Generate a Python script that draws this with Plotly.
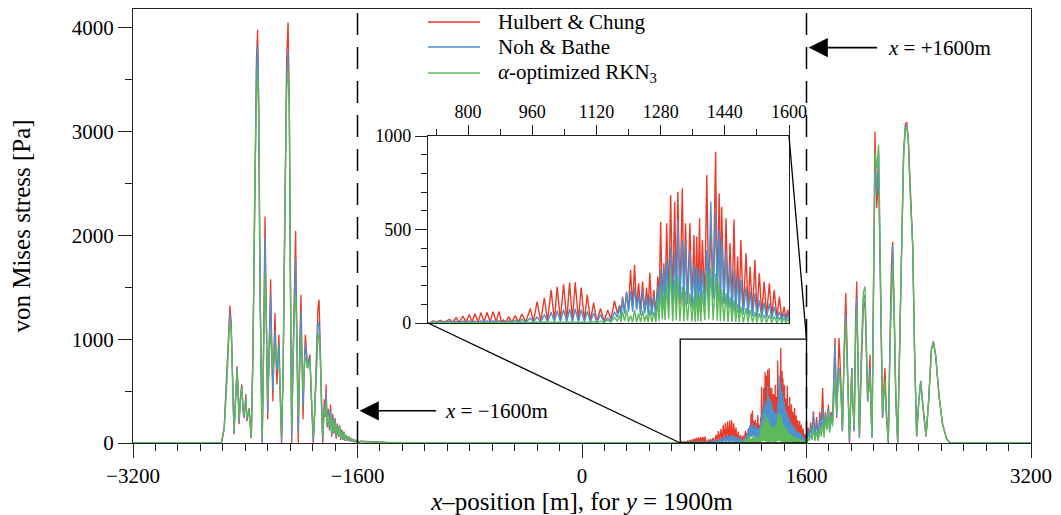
import plotly.graph_objects as go

# ---------------- data ----------------
# Segment A : left cluster and the quiet zone up to 690 m
seg_a_x = [-3200, -2600, -2570, -2550, -2530, -2515, -2509, -2500, -2490, -2480,
           -2470, -2458, -2450, -2444, -2435, -2425, -2415, -2408, -2400, -2396,
           -2388, -2380, -2372, -2365, -2357, -2345, -2333, -2320, -2312, -2304,
           -2295, -2286, -2279, -2270, -2259, -2250, -2240, -2230, -2219, -2210,
           -2203, -2195, -2188, -2180, -2174, -2167, -2160, -2150, -2141, -2130,
           -2118, -2105, -2095, -2086, -2078, -2069, -2060, -2050, -2041, -2032,
           -2022, -2012, -2003, -1995, -1988, -1980, -1972, -1964, -1956, -1948,
           -1939, -1928, -1915, -1905, -1892, -1882, -1874, -1865, -1856, -1848,
           -1836, -1830, -1824, -1816, -1808, -1800, -1792, -1784, -1776, -1768,
           -1760, -1752, -1744, -1736, -1728, -1720, -1712, -1704, -1696, -1688,
           -1680, -1672, -1664, -1656, -1648, -1640, -1632, -1624, -1616, -1608,
           -1600, -1590, -1580, -1560, -1500, -1400, -1300, -1100, -800, 690]
seg_a_hc = [0, 0, 0, 150, 700, 1250, 1325, 1150, 500, 83,
            400, 738, 450, 180, 420, 565, 300, 240, 380, 470,
            210, 300, 335, 200, 45, 900, 2600, 3700, 3979, 3300,
            1500, 300, 0, 900, 2182, 1200, 228, 900, 1578, 800,
            400, 900, 1251, 800, 563, 800, 1043, 400, 0, 700,
            2500, 3700, 4052, 3300, 1500, 0, 800, 1700, 2044, 1000,
            0, 900, 1428, 800, 228, 700, 1043, 900, 720, 800,
            850, 400, 0, 300, 1000, 1300, 1380, 900, 300, 0,
            420, 250, 563, 150, 330, 120, 370, 60, 280, 90,
            240, 40, 190, 60, 170, 30, 130, 30, 110, 20,
            80, 20, 65, 15, 50, 12, 40, 10, 30, 8,
            22, 8, 18, 15, 12, 6, 3, 1, 0, 0]
seg_a_nb = [0, 0, 0, 140, 660, 1180, 1250, 1100, 480, 100,
            380, 720, 450, 200, 410, 550, 310, 250, 370, 440,
            230, 290, 320, 200, 50, 860, 2500, 3600, 3834, 3200,
            1500, 350, 20, 850, 1973, 1200, 300, 850, 1428, 850,
            500, 850, 1075, 800, 700, 800, 950, 450, 30, 700,
            2400, 3500, 3786, 3200, 1500, 50, 750, 1500, 1781, 1000,
            100, 850, 1268, 800, 350, 700, 950, 850, 720, 780,
            820, 420, 20, 300, 900, 1150, 1170, 850, 320, 30,
            380, 260, 485, 170, 300, 140, 330, 80, 250, 100,
            220, 55, 170, 65, 160, 40, 120, 35, 100, 25,
            75, 22, 60, 17, 45, 14, 36, 12, 28, 9,
            20, 8, 16, 13, 10, 5, 3, 1, 0, 0]
seg_a_rk = [0, 0, 0, 130, 600, 1100, 1170, 1080, 520, 120,
            400, 700, 470, 230, 420, 530, 330, 270, 360, 420,
            250, 290, 300, 200, 60, 820, 2400, 3350, 3600, 3100,
            1600, 450, 80, 800, 1636, 1250, 401, 800, 1050, 900,
            700, 800, 882, 950, 800, 850, 760, 500, 60, 700,
            2300, 3400, 3600, 3250, 1700, 150, 700, 1250, 1428, 1000,
            250, 800, 1050, 800, 500, 700, 820, 800, 720, 760,
            780, 450, 60, 300, 800, 1000, 1050, 800, 350, 60,
            330, 270, 400, 190, 270, 160, 270, 100, 220, 110,
            200, 70, 160, 70, 150, 50, 110, 40, 95, 30,
            70, 25, 55, 20, 42, 16, 34, 13, 26, 10,
            18, 8, 14, 12, 9, 5, 2, 1, 0, 0]

# Segment B : 700 - 1172 m (inside the zoom window)
seg_b_x = [700, 706, 713, 721, 730, 741, 753, 762, 770, 778,
           787, 795, 803, 810, 817, 825, 832, 840, 847, 855,
           862, 870, 877, 883, 888, 895, 901, 909, 917, 926,
           934, 944, 955, 963, 972, 981, 990, 998, 1007, 1015,
           1022, 1030, 1038, 1046, 1053, 1060, 1067, 1075, 1082, 1090,
           1097, 1105, 1113, 1121, 1130, 1139, 1148, 1156, 1165, 1172]
seg_b_hc = [0, 2, 12, 2, 14, 3, 20, 4, 28, 4,
            37, 5, 45, 5, 50, 6, 55, 6, 57, 6,
            60, 8, 62, 6, 16, 4, 34, 5, 39, 5,
            48, 6, 78, 8, 114, 10, 135, 12, 176, 15,
            194, 15, 207, 15, 216, 15, 218, 15, 189, 12,
            150, 10, 109, 8, 78, 8, 70, 20, 118, 50]
seg_b_nb = [0, 3, 6, 4, 8, 2, 10, 3, 9, 2,
            10, 3, 12, 3, 11, 2, 12, 3, 12, 3,
            12, 4, 13, 3, 8, 3, 12, 3, 15, 3,
            20, 4, 27, 5, 32, 5, 45, 6, 57, 6,
            66, 6, 71, 6, 75, 6, 75, 6, 71, 6,
            62, 5, 53, 5, 45, 5, 27, 10, 60, 30]
seg_b_rk = [0, 1, 2, 1, 3, 1, 3, 1, 4, 1,
            3, 1, 4, 1, 3, 1, 4, 1, 4, 1,
            4, 1, 5, 1, 3, 1, 4, 1, 4, 1,
            5, 1, 4, 1, 5, 1, 5, 1, 6, 1,
            5, 1, 6, 1, 5, 1, 6, 1, 5, 1,
            6, 1, 8, 2, 10, 3, 15, 5, 30, 10]

# Segment C : 1178 - 1600 m (dense part of the zoom window)
seg_c_x = [1178, 1181, 1185, 1190, 1195, 1200, 1205, 1210, 1215, 1220,
           1225, 1230, 1235, 1240, 1245, 1249, 1253, 1258, 1263, 1268,
           1273, 1276, 1280, 1284, 1288, 1291, 1295, 1300, 1305, 1310,
           1315, 1319, 1323, 1328, 1334, 1338, 1342, 1347, 1353, 1358,
           1363, 1366, 1370, 1373, 1377, 1380, 1384, 1390, 1395, 1400,
           1405, 1411, 1417, 1421, 1426, 1429, 1432, 1438, 1443, 1448,
           1453, 1458, 1463, 1467, 1472, 1476, 1480, 1486, 1493, 1498,
           1503, 1509, 1515, 1520, 1526, 1532, 1538, 1544, 1551, 1557,
           1563, 1570, 1576, 1582, 1588, 1592, 1597, 1600]
seg_c_hc = [96, 40, 140, 60, 160, 70, 283, 90, 310, 80,
            212, 70, 221, 60, 190, 70, 269, 60, 176, 50,
            248, 80, 542, 100, 319, 90, 533, 110, 684, 100,
            649, 110, 702, 100, 720, 90, 533, 100, 533, 90,
            471, 90, 462, 100, 560, 90, 444, 110, 791, 120,
            515, 130, 916, 150, 693, 120, 622, 110, 560, 100,
            426, 90, 554, 80, 355, 70, 444, 65, 373, 60,
            301, 55, 337, 50, 266, 45, 221, 40, 212, 35,
            176, 30, 141, 25, 87, 20, 70, 20]
seg_c_nb = [89, 30, 130, 50, 168, 60, 170, 60, 194, 70,
            150, 40, 176, 50, 140, 40, 150, 40, 141, 30,
            200, 60, 283, 80, 300, 90, 337, 100, 408, 90,
            380, 100, 551, 120, 444, 90, 420, 100, 390, 80,
            319, 90, 300, 80, 283, 70, 283, 90, 390, 110,
            649, 130, 586, 120, 497, 110, 450, 100, 390, 80,
            319, 60, 283, 55, 250, 50, 230, 45, 194, 40,
            170, 35, 159, 30, 123, 28, 110, 25, 105, 22,
            87, 20, 61, 15, 52, 12, 45, 15]
seg_c_rk = [40, 5, 60, 10, 70, 5, 40, 5, 70, 5,
            50, 5, 65, 8, 45, 5, 70, 5, 60, 5,
            120, 10, 194, 20, 150, 15, 212, 20, 283, 10,
            230, 15, 248, 10, 194, 8, 170, 12, 159, 8,
            140, 5, 176, 10, 150, 8, 176, 15, 266, 20,
            292, 15, 266, 12, 212, 10, 180, 8, 159, 5,
            140, 5, 123, 5, 100, 4, 87, 4, 80, 3,
            70, 3, 60, 3, 52, 2, 45, 2, 43, 2,
            35, 2, 30, 2, 25, 2, 20, 5]

# Segment D : right cluster 1605 - 3200 m
seg_d_x = [1605, 1610, 1620, 1630, 1640, 1649, 1660, 1672, 1684, 1695,
           1705, 1715, 1725, 1735, 1745, 1756, 1765, 1775, 1785, 1794,
           1803, 1815, 1824, 1832, 1844, 1856, 1868, 1880, 1893, 1906,
           1915, 1923, 1930, 1940, 1950, 1958, 1968, 1977, 1990, 2005,
           2017, 2026, 2036, 2045, 2053, 2060, 2067, 2075, 2082, 2088,
           2100, 2114, 2128, 2142, 2150, 2159, 2170, 2183, 2195, 2205,
           2214, 2225, 2237, 2250, 2265, 2278, 2292, 2305, 2314, 2325,
           2340, 2357, 2370, 2385, 2400, 2414, 2430, 2452, 2470, 2490,
           2504, 2520, 2545, 2570, 2599, 2623, 2660, 3200]
seg_d_hc = [60, 150, 60, 200, 80, 305, 60, 250, 40, 300,
            150, 529, 100, 300, 150, 368, 120, 300, 200, 700,
            1011, 240, 800, 1011, 626, 113, 900, 1444, 700, 0,
            400, 722, 400, 113, 1200, 1556, 700, 50, 700, 1300,
            1364, 900, 401, 600, 853, 300, 50, 1200, 2400, 3000,
            2262, 2580, 1400, 241, 500, 722, 300, 0, 1000, 1700,
            1941, 1300, 400, 0, 900, 1900, 2800, 3070, 3090, 2950,
            2400, 1900, 900, 64, 400, 594, 350, 64, 400, 900,
            979, 850, 450, 180, 40, 0, 0, 0]
seg_d_nb = [50, 120, 50, 160, 70, 273, 55, 200, 40, 250,
            130, 336, 90, 280, 140, 330, 110, 280, 180, 650,
            946, 260, 700, 722, 560, 113, 850, 1236, 650, 20,
            400, 722, 400, 113, 1100, 1396, 700, 50, 750, 1380,
            1428, 950, 401, 550, 722, 300, 50, 1100, 2200, 2615,
            2390, 2807, 1450, 241, 450, 530, 250, 10, 950, 1650,
            1909, 1300, 400, 0, 880, 1880, 2780, 3050, 3063, 2940,
            2400, 1900, 900, 64, 400, 600, 350, 64, 400, 900,
            979, 850, 450, 180, 40, 0, 0, 0]
seg_d_rk = [15, 50, 20, 80, 30, 145, 20, 110, 20, 150,
            60, 200, 50, 250, 120, 305, 100, 250, 160, 400,
            593, 300, 550, 700, 500, 150, 800, 1171, 650, 80,
            380, 674, 400, 150, 1000, 1300, 750, 100, 850, 1450,
            1508, 1000, 450, 500, 650, 300, 80, 1150, 2300, 2800,
            2650, 2872, 1600, 300, 450, 600, 250, 20, 900, 1500,
            1730, 1250, 420, 10, 850, 1850, 2750, 3030, 3047, 2930,
            2380, 1880, 880, 70, 390, 580, 350, 70, 390, 890,
            970, 845, 450, 180, 40, 0, 0, 0]

x_pos = seg_a_x + seg_b_x + seg_c_x + seg_d_x
hulbert_chung = seg_a_hc + seg_b_hc + seg_c_hc + seg_d_hc
noh_bathe = seg_a_nb + seg_b_nb + seg_c_nb + seg_d_nb
rkn3 = seg_a_rk + seg_b_rk + seg_c_rk + seg_d_rk
for s in (hulbert_chung, noh_bathe, rkn3):
    assert len(s) == len(x_pos), (len(s), len(x_pos))

series_names = ["Hulbert &amp; Chung", "Noh &amp; Bathe", "<i>α</i>-optimized RKN<sub>3</sub>"]
series_colors = ["#EA3A2A", "#4A92CE", "#5CBA5A"]

main_xticks = [-3200, -1600, 0, 1600, 3200]
main_xticktext = ["\u22123200", "\u22121600", "0", "1600", "3200"]
zoom_x_range = [700, 1600]
zoom_y_range = [0, 1000]
y_top = 4180

# ---------------- figure ----------------
# The page body adds an 8 px offset, so the figure is 8 px smaller and the
# margins are reduced accordingly (plot area ends up at x 133..1031, y 9..443).
OFF = 8
FIG_W, FIG_H = 1061 - OFF, 515 - OFF
PL, PT, PW, PH = 133 - OFF, 1, 898, 434

FONT = "Liberation Serif, Times New Roman, serif"
fig = go.Figure()
for name, ys, col in zip(series_names, [hulbert_chung, noh_bathe, rkn3], series_colors):
    fig.add_trace(go.Scatter(x=x_pos, y=ys, mode="lines", name=name, showlegend=False,
                             line=dict(color=col, width=1.3), xaxis="x", yaxis="y"))
for name, ys, col in zip(series_names, [hulbert_chung, noh_bathe, rkn3], series_colors):
    fig.add_trace(go.Scatter(x=x_pos, y=ys, mode="lines", name=name, showlegend=False,
                             line=dict(color=col, width=1.4), xaxis="x2", yaxis="y2"))

# helpers: screen pixel (as seen in the final picture) -> paper coordinate
def px2paper_x(px):
    return (px - OFF - PL) / float(PW)

def px2paper_y(py):
    return (PT + PH - (py - OFF)) / float(PH)

ins_x = [px2paper_x(428), px2paper_x(789)]
ins_y = [px2paper_y(323), px2paper_y(136)]

axis_common = dict(showline=True, linecolor="#222", linewidth=1.3, mirror=True,
                   showgrid=False, zeroline=False, ticks="outside", tickcolor="#222",
                   tickwidth=1.2, automargin=False)

fig.update_layout(
    width=FIG_W, height=FIG_H,
    margin=dict(l=PL, r=FIG_W - PL - PW, t=PT, b=FIG_H - PT - PH, autoexpand=False),
    paper_bgcolor="white", plot_bgcolor="white",
    font=dict(family=FONT, size=21, color="black"),
    showlegend=False,
    xaxis=dict(range=[-3200, 3200], tickmode="array", tickvals=main_xticks,
               ticktext=main_xticktext, ticklen=14,
               minor=dict(tickmode="linear", tick0=-3200, dtick=160, ticklen=7,
                          ticks="outside", tickcolor="#222", tickwidth=1.2),
               title=dict(text="<i>x</i>\u2013position [m], for <i>y</i> = 1900m", standoff=14),
               **axis_common),
    yaxis=dict(range=[0, y_top], tickmode="linear", tick0=0, dtick=1000, tickformat="d",
               ticklen=14,
               minor=dict(tickmode="linear", tick0=0, dtick=500, ticklen=7,
                          ticks="outside", tickcolor="#222", tickwidth=1.2),
               title=dict(text="von Mises stress [Pa]", standoff=40),
               **axis_common),
    xaxis2=dict(domain=ins_x, anchor="y2", side="top", range=zoom_x_range,
                tickmode="linear", tick0=800, dtick=160, ticklen=10, tickformat="d",
                tickfont=dict(size=18),
                minor=dict(tickmode="linear", tick0=0, dtick=80, ticklen=6,
                           ticks="outside", tickcolor="#222", tickwidth=1.2),
                **axis_common),
    yaxis2=dict(domain=ins_y, anchor="x2", range=zoom_y_range,
                tickmode="linear", tick0=0, dtick=500, ticklen=12, tickformat="d",
                tickfont=dict(size=18),
                minor=dict(tickmode="linear", tick0=0, dtick=100, ticklen=6,
                           ticks="outside", tickcolor="#222", tickwidth=1.2),
                **axis_common),
)

shapes = []
for xv in (-1600, 1600):
    shapes.append(dict(type="line", xref="x", yref="y", x0=xv, x1=xv, y0=0, y1=y_top,
                       line=dict(color="black", width=1.5, dash="22px,12px")))
shapes.append(dict(type="rect", xref="x", yref="y", x0=zoom_x_range[0], x1=zoom_x_range[1],
                   y0=zoom_y_range[0], y1=zoom_y_range[1], line=dict(color="black", width=1.3)))
px_l = (zoom_x_range[0] + 3200) / 6400
px_r = (zoom_x_range[1] + 3200) / 6400
py_t = zoom_y_range[1] / y_top
shapes.append(dict(type="line", xref="paper", yref="paper", x0=ins_x[0], y0=ins_y[0],
                   x1=px_l, y1=0, line=dict(color="black", width=1.3)))
shapes.append(dict(type="line", xref="paper", yref="paper", x0=ins_x[1], y0=ins_y[1],
                   x1=px_r, y1=py_t, line=dict(color="black", width=1.3)))

# legend drawn by hand (line sample + label)
legend_rows_py = [22, 47, 73]
ann = []
for name, col, py in zip(series_names, series_colors, legend_rows_py):
    shapes.append(dict(type="line", xref="paper", yref="paper",
                       x0=px2paper_x(428), x1=px2paper_x(480),
                       y0=px2paper_y(py), y1=px2paper_y(py),
                       line=dict(color=col, width=1.5)))
    ann.append(dict(x=px2paper_x(496), y=px2paper_y(py), xref="paper", yref="paper",
                    text=name, showarrow=False, xanchor="left", yanchor="middle",
                    font=dict(size=21)))
fig.update_layout(shapes=shapes)

ann += [
    dict(x=-1585, y=310, xref="x", yref="y", ax=78, ay=0, text="", showarrow=True,
         arrowhead=2, arrowsize=2.4, arrowwidth=1.6, arrowcolor="black"),
    dict(x=-990, y=310, xref="x", yref="y", text="<i>x</i> = \u22121600m", showarrow=False,
         xanchor="left", yanchor="middle", font=dict(size=21)),
    dict(x=1615, y=3808, xref="x", yref="y", ax=70, ay=0, text="", showarrow=True,
         arrowhead=2, arrowsize=2.4, arrowwidth=1.6, arrowcolor="black"),
    dict(x=2170, y=3808, xref="x", yref="y", text="<i>x</i> = +1600m", showarrow=False,
         xanchor="left", yanchor="middle", font=dict(size=21)),
]
fig.update_layout(annotations=ann)

fig.write_html("out.html")
